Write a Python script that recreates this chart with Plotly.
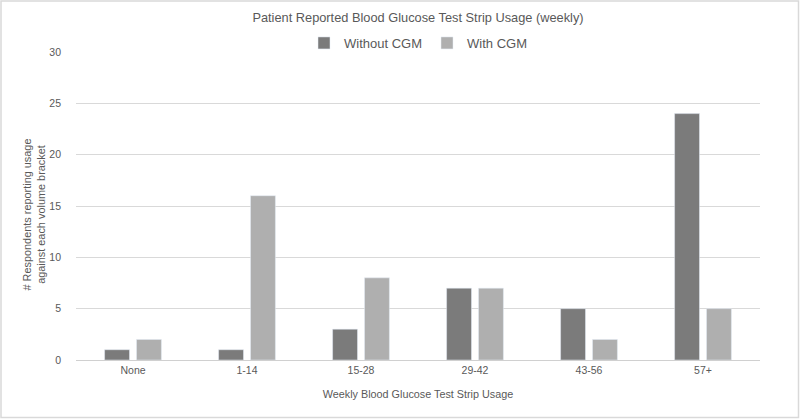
import plotly.graph_objects as go

categories = ["None", "1-14", "15-28", "29-42", "43-56", "57+"]
without_cgm = [1, 1, 3, 7, 5, 24]
with_cgm = [2, 16, 8, 7, 2, 5]

FAM = "Liberation Sans, Arial, sans-serif"
GREY = "#595959"

def f(size):
    return dict(family=FAM, color=GREY, size=size)

fig = go.Figure()
fig.add_bar(x=categories, y=without_cgm, name="Without CGM", marker_color="#7b7b7b")
fig.add_bar(x=categories, y=with_cgm, name="With CGM", marker_color="#afafaf")

W, H = 800, 419
L, R, T, B = 76, 40, 52, 59
pw, ph = W - L - R, H - T - B

fig.update_layout(
    width=W, height=H,
    margin=dict(l=L, r=R, t=T, b=B, autoexpand=False),
    paper_bgcolor="white", plot_bgcolor="white",
    font=f(11),
    barmode="group", bargap=0.44, bargroupgap=0.22,
    title=dict(text="Patient Reported Blood Glucose Test Strip Usage (weekly)",
               x=0.5, xanchor="center", xref="paper", y=1 - 18 / H, yanchor="middle",
               font=f(12.8)),
    legend=dict(orientation="h", x=0.5, xanchor="center", y=1 + 9 / ph, yanchor="middle",
                font=f(13), itemwidth=30, traceorder="normal"),
    xaxis=dict(title=dict(text="Weekly Blood Glucose Test Strip Usage", font=f(10.8)),
               automargin=False,
               showline=True, linecolor="#d0d0d0", linewidth=1, ticks="", tickfont=f(10.5)),
    yaxis=dict(automargin=False,
               range=[0, 30], dtick=5, gridcolor="#d9d9d9", zeroline=False,
               ticks="", ticklabelstandoff=14, tickfont=f(10.5)),
    annotations=[dict(text="# Respondents reporting usage<br>against each volume bracket",
                      xref="paper", yref="paper", x=-(L - 33) / pw, y=0.5 - 8.5 / ph,
                      xanchor="center", yanchor="middle", textangle=-90, showarrow=False,
                      font=f(10.9))],
    shapes=[dict(type="rect", xref="paper", yref="paper",
                 x0=-(L - 1) / pw, x1=1 + (R - 1.5) / pw, y0=-(B - 1.5) / ph, y1=1 + (T - 1) / ph,
                 line=dict(color="#d9d9d9", width=1.5))],
)

fig.write_html("out.html", config={"displayModeBar": False},
               post_script="document.body.style.margin='0';")
